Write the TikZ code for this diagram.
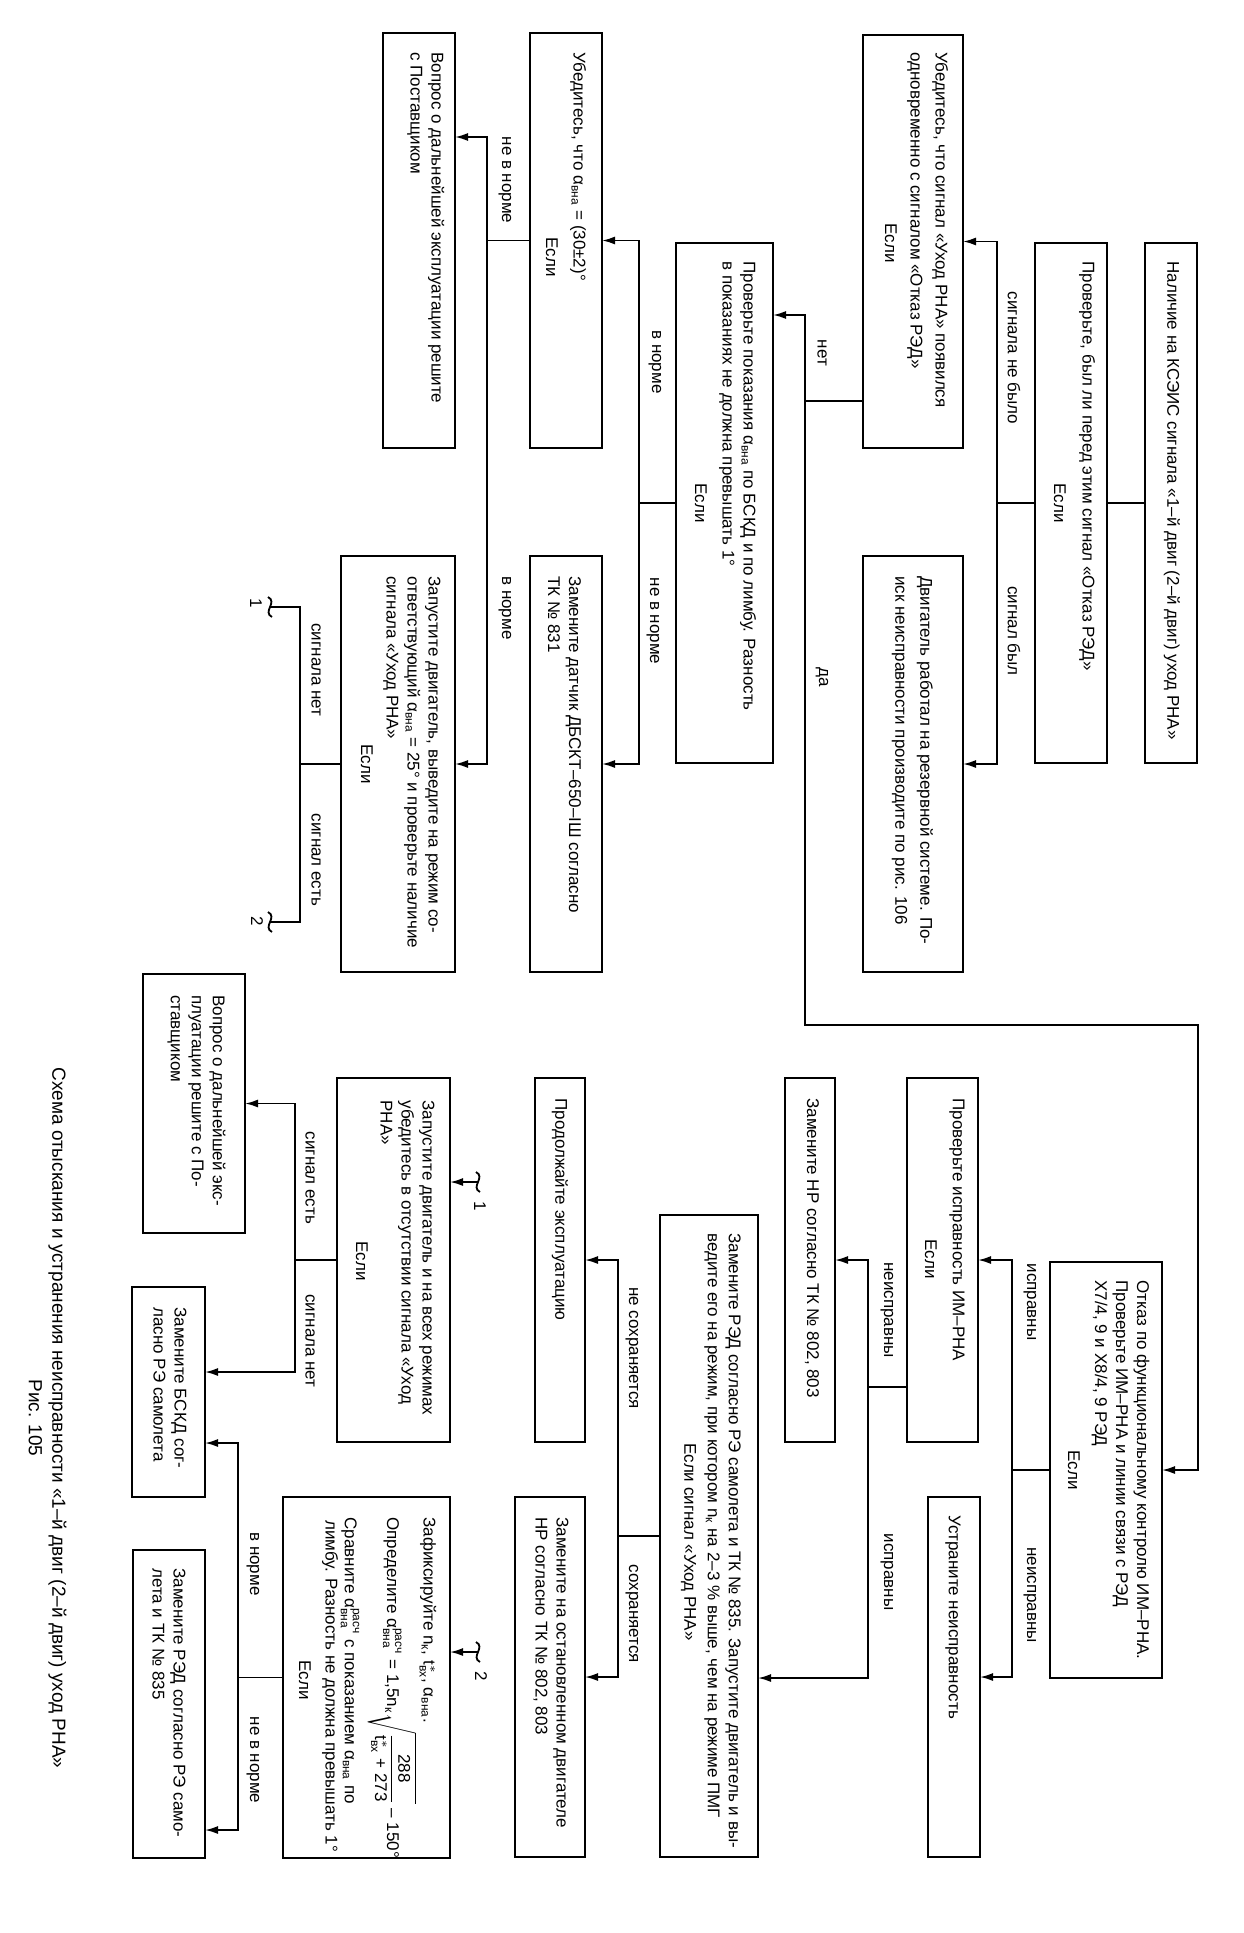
\documentclass[tikz,border=0pt]{standalone}
\usepackage{fontspec}
\setmainfont{Liberation Sans}
\usetikzlibrary{arrows.meta,calc}
\newcommand{\fsz}{\fontsize{8.5}{10.5}\selectfont}
\newcommand{\fszb}{\fontsize{8.5}{12.5}\selectfont}
\newcommand{\fszc}{\fontsize{9.5}{11}\selectfont}
\newcommand{\sbx}[1]{\mbox{\fontsize{6}{7}\selectfont #1}}
\newcommand{\avna}{α\textsubscript{вна}}
\newcommand{\avnar}{$\mbox{α}^{\sbx{расч}}_{\sbx{вна}}$}
\newcommand{\nk}{n\textsubscript{к}}
\begin{document}
\begin{tikzpicture}[x=0.5pt,y=-0.5pt,
 bx/.style={draw, line width=1.1pt, rotate=-90, inner sep=0pt, outer sep=0pt},
 txt/.style={rotate=-90, inner sep=0pt, font=\fsz, align=left, anchor=west},
 lbl/.style={rotate=-90, inner sep=0pt, font=\fsz},
 ln/.style={line width=0.9pt},
 arr/.style={line width=0.9pt, -{Latex[length=6.5pt,width=4pt]}},
 brk/.pic={\draw[line width=0.9pt] (-2,-10) .. controls (8,-5) and (-8,5) .. (2,10);}
]
\fill[white] (0,0) rectangle (1243,1933);
\useasboundingbox (0,0) rectangle (1243,1933);

% ---------- boxes ----------
\node[bx, minimum width=260pt, minimum height=26pt] (G1) at (1171,503) {};
\node[bx, minimum width=260pt, minimum height=36pt] (F1) at (1071,503) {};
\node[bx, minimum width=206.5pt, minimum height=50pt] (E1) at (913,241.5) {};
\node[bx, minimum width=208pt, minimum height=50pt] (E2) at (913,764) {};
\node[bx, minimum width=260pt, minimum height=48.5pt] (D1) at (724.5,503) {};
\node[bx, minimum width=207.5pt, minimum height=36pt] (C1) at (566,240.5) {};
\node[bx, minimum width=208pt, minimum height=36pt] (C2) at (566,764) {};
\node[bx, minimum width=207.5pt, minimum height=36pt] (A1) at (419,240.5) {};
\node[bx, minimum width=208pt, minimum height=57pt] (B) at (398,764) {};
\node[bx, minimum width=129.5pt, minimum height=51pt] (A2) at (194,1103.5) {};
\node[bx, minimum width=105pt, minimum height=36.5pt] (K1) at (168.5,1392) {};
\node[bx, minimum width=154pt, minimum height=36pt] (L1) at (169,1704) {};
\node[bx, minimum width=182pt, minimum height=56.5pt] (B2) at (393.5,1260) {};
\node[bx, minimum width=180.5pt, minimum height=83.5pt] (Z) at (366.5,1677.5) {};
\node[bx, minimum width=182pt, minimum height=25pt] (P1) at (560,1260) {};
\node[bx, minimum width=180pt, minimum height=35pt] (S1) at (550,1677) {};
\node[bx, minimum width=321pt, minimum height=49pt] (R1) at (709,1536) {};
\node[bx, minimum width=182pt, minimum height=25pt] (H3) at (810,1260) {};
\node[bx, minimum width=182pt, minimum height=35.5pt] (I1) at (942.5,1260) {};
\node[bx, minimum width=180pt, minimum height=26pt] (U1) at (954,1677) {};
\node[bx, minimum width=208pt, minimum height=56pt] (J1) at (1106,1470) {};

% ---------- texts ----------
\node[txt] (tG1) at (1172,261) {Наличие на КСЭИС сигнала «1–й двиг (2–й двиг) уход РНА»};
\node[txt] (tF1) at (1087,261) {Проверьте, был ли перед этим сигнал «Отказ РЭД»};
\node[lbl] (eF1) at (1060,503) {Если};
\node[txt, font=\fszb] (tE1) at (927.5,52) {Убедитесь, что сигнал «Уход РНА» появился\\одновременно с сигналом «Отказ РЭД»};
\node[lbl] (eE1) at (891,243) {Если};
\node[txt, font=\fszb] (tE2) at (912.5,576) {Двигатель работал на резервной системе. По-\\иск неисправности производите по рис. 106};
\node[txt] (tD1) at (737.5,261) {Проверьте показания \avna{} по БСКД и по лимбу. Разность\\в показаниях не должна превышать 1°};
\node[lbl] (eD1) at (701,503) {Если};
\node[txt] (tC1) at (578,52) {Убедитесь, что \avna{} = (30±2)°};
\node[lbl] (eC1) at (552,257) {Если};
\node[txt] (tC2) at (564.5,576) {Замените датчик ДБСКТ–650–IШ согласно\\ТК № 831};
\node[txt] (tA1) at (425.75,52) {Вопрос о дальнейшей эксплуатации решите\\с Поставщиком};
\node[txt] (tB) at (411.75,576) {Запустите двигатель, выведите на режим со-\\ответствующий \avna{} = 25° и проверьте наличие\\сигнала «Уход РНА»};
\node[lbl] (eB) at (367,764) {Если};
\node[txt] (tA2) at (196.5,995) {Вопрос о дальнейшей экс-\\плуатации решите с По-\\ставщиком};
\node[txt] (tK1) at (170,1307) {Замените БСКД сог-\\ласно РЭ самолета};
\node[txt] (tL1) at (169,1568) {Замените РЭД согласно РЭ само-\\лета и ТК № 835};
\node[txt] (tB2) at (407.5,1100) {Запустите двигатель и на всех режимах\\убедитесь в отсутствии сигнала «Уход\\РНА»};
\node[lbl] (eB2) at (362,1261) {Если};
\node[txt] (tZ1) at (428,1517) {Зафиксируйте \nk, $\mbox{t}^{*}_{\sbx{вх}}$, \avna.};
\node[txt] (tZ2) at (392,1517) {Определите \avnar{} = 1,5\nk$\sqrt{\displaystyle\frac{\mbox{288}}{\mbox{t}^{*}_{\sbx{вх}}\mbox{ + 273}}}$ – 150°};
\node[txt] (tZ3) at (350,1517) {Сравните \avnar{} с показанием \avna{} по};
\node[txt] (tZ4) at (330,1520) {лимбу. Разность не должна превышать 1°};
\node[lbl] (eZ) at (305,1680) {Если};
\node[txt] (tP1) at (560,1098) {Продолжайте эксплуатацию};
\node[txt] (tS1) at (551,1517) {Замените на остановленном двигателе\\НР согласно ТК № 802, 803};
\node[txt] (tR1) at (722.5,1233) {Замените РЭД согласно РЭ самолета и ТК № 835. Запустите двигатель и вы-\\ведите его на режим, при котором \nk{} на 2–3 \% выше, чем на режиме ПМГ};
\node[txt] (tR1b) at (688.5,1443) {Если сигнал «Уход РНА»};
\node[txt] (tH3) at (812,1098) {Замените НР согласно ТК № 802, 803};
\node[txt] (tI1) at (957,1098) {Проверьте исправность ИМ–РНА};
\node[lbl] (eI1) at (931,1259) {Если};
\node[txt] (tU1) at (953,1515) {Устраните неисправность};
\node[txt] (tJ1) at (1120.5,1280) {Отказ по функциональному контролю ИМ–РНА.\\Проверьте ИМ–РНА и линии связи с РЭД\\X7/4, 9 и X8/4, 9 РЭД};
\node[lbl] (eJ1) at (1074,1470) {Если};
\node[lbl, font=\fszc] (cap1) at (57.5,1418) {Схема отыскания и устранения неисправности «1–й двиг (2–й двиг) уход РНА»};
\node[lbl, font=\fszc] (cap2) at (35.5,1418) {Рис. 105};

% ---------- connectors ----------
\draw[ln] (G1.south) -- (F1.north);
\coordinate (jF) at (997,503);
\draw[ln] (F1.south) -- (jF);
\draw[arr] (jF) |- (E1.north);
\draw[arr] (jF) |- (E2.north);
\node[lbl] (l1) at (1014,358) {сигнала не было};
\node[lbl] (l2) at (1014,631) {сигнал был};

\coordinate (jE) at (805,401);
\coordinate (jDa) at (1198,1025);
\draw[ln] (E1.south |- jE) -- (jE);
\draw[arr] (jE) |- ($(D1.north)+(0,-188)$);
\draw[arr] (jE) |- (jDa) |- (J1.north);
\node[lbl] (l3) at (822,353) {нет};
\node[lbl] (l4) at (822,677) {да};

\coordinate (jD) at (639,503);
\draw[ln] (D1.south) -- (jD);
\draw[arr] (jD) |- (C1.north);
\draw[arr] (jD) |- (C2.north);
\node[lbl] (l5) at (655,362) {в норме};
\node[lbl] (l6) at (653,621) {не в норме};

\coordinate (jC) at (487,240.5);
\draw[ln] (C1.south) -- (jC);
\draw[arr] (jC) |- ($(A1.north)+(0,-103.5)$);
\draw[arr] (jC) |- (B.north);
\node[lbl] (l7) at (505,180) {не в норме};
\node[lbl] (l8) at (505,608) {в норме};

\coordinate (jB) at (300,764);
\coordinate (m1s) at (270,607);
\coordinate (m2s) at (270,922);
\draw[ln] (B.south) -- (jB);
\draw[ln] (jB) |- (m1s);
\draw[ln] (jB) |- (m2s);
\pic at (m1s) {brk};
\pic at (m2s) {brk};
\node[lbl] (n1s) at (256,603) {1};
\node[lbl] (n2s) at (257,921) {2};
\node[lbl] (l9) at (316,670) {сигнала нет};
\node[lbl] (l10) at (316,860) {сигнал есть};

\coordinate (m1t) at (478,1182);
\coordinate (m2t) at (478,1652);
\draw[arr] (m1t) -- (B2.north |- m1t);
\draw[arr] (m2t) -- (Z.north |- m2t);
\pic at (m1t) {brk};
\pic at (m2t) {brk};
\node[lbl] (n1t) at (480,1206) {1};
\node[lbl] (n2t) at (481,1676) {2};

\coordinate (jB2) at (295,1260);
\draw[ln] (B2.south) -- (jB2);
\draw[arr] (jB2) |- (A2.north);
\draw[arr] (jB2) |- ($(K1.north)+(0,-20)$);
\node[lbl] (l11) at (310,1178) {сигнал есть};
\node[lbl] (l12) at (310,1341) {сигнала нет};

\coordinate (jZ) at (238,1677.5);
\draw[ln] (Z.south) -- (jZ);
\draw[arr] (jZ) |- ($(K1.north)+(0,51)$);
\draw[arr] (jZ) |- ($(L1.north)+(0,126)$);
\node[lbl] (l13) at (253,1564) {в норме};
\node[lbl] (l14) at (253,1760) {не в норме};

\coordinate (jR) at (618,1536);
\draw[ln] (R1.south) -- (jR);
\draw[arr] (jR) |- (P1.north);
\draw[arr] (jR) |- (S1.north);
\node[lbl] (l15) at (632,1348) {не сохраняется};
\node[lbl] (l16) at (632,1614) {сохраняется};

\coordinate (jI) at (868,1387);
\draw[ln] (I1.south |- jI) -- (jI);
\draw[arr] (jI) |- (H3.north);
\draw[arr] (jI) |- ($(R1.north)+(0,142)$);
\node[lbl] (l17) at (887,1310) {неисправны};
\node[lbl] (l18) at (887,1572) {исправны};

\coordinate (jJ) at (1012,1470);
\draw[ln] (J1.south) -- (jJ);
\draw[arr] (jJ) |- (I1.north);
\draw[arr] (jJ) |- (U1.north);
\node[lbl] (l19) at (1030,1302) {исправны};
\node[lbl] (l20) at (1030,1595) {неисправны};
\end{tikzpicture}
\end{document}
